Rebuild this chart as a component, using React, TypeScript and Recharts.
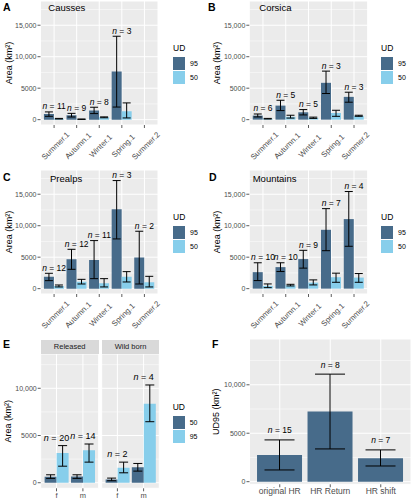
import React from 'react';
import {
  ComposedChart,
  Bar,
  Line,
  XAxis,
  YAxis,
  CartesianGrid,
  ErrorBar,
  LabelList,
  Legend,
  Label,
} from 'recharts';

const FONT = '"Liberation Sans", Arial, Helvetica, sans-serif';
const DARK = '#476B8A';
const LIGHT = '#87CEEB';
const TICK = '#4D4D4D';

// ---- A-D: seasonal home ranges ----
const seasons = ['Summer.1', 'Autumn.1', 'Winter.1', 'Spring.1', 'Summer.2'];
const seasonTicks = [0, 5000, 10000, 15000];
const seasonMinor = [2500, 7500, 12500, 17500];
const seasonDomain = [-850, 18850];

// A Causses
const caussesN = [11, 9, 8, 3, null];
const causses95 = [900, 690, 1440, 7650, null];
const causses95Lo = [530, 420, 960, 2000, null];
const causses95Hi = [1230, 1000, 1970, 13250, null];
const causses50 = [150, 70, 370, 1330, null];
const causses50Lo = [100, 40, 300, 270, null];
const causses50Hi = [200, 100, 440, 2660, null];

// B Corsica
const corsicaN = [6, 5, 5, 3, 3];
const corsica95 = [640, 2230, 1170, 5850, 3620];
const corsica95Lo = [430, 1440, 750, 4150, 2770];
const corsica95Hi = [900, 3080, 1600, 7710, 4360];
const corsica50 = [150, 450, 300, 1060, 600];
const corsica50Lo = [100, 250, 200, 530, 530];
const corsica50Hi = [200, 700, 400, 1490, 700];

// C Prealps
const prealpsN = [12, 12, 11, 3, 2];
const prealps95 = [1910, 4660, 4560, 12600, 4930];
const prealps95Lo = [1270, 3070, 1590, 7900, 740];
const prealps95Hi = [2440, 6250, 7630, 17170, 9120];
const prealps50 = [420, 1110, 850, 1910, 1010];
const prealps50Lo = [270, 740, 270, 1060, 270];
const prealps50Hi = [580, 1480, 1590, 2700, 1960];

// D Mountains
const mountainsN = [10, 10, 9, 7, 4];
const mountains95 = [2620, 3420, 4700, 9350, 11050];
const mountains95Lo = [1280, 2720, 3260, 6030, 6730];
const mountains95Hi = [4110, 4110, 6090, 12710, 15430];
const mountains50 = [430, 530, 960, 1820, 1760];
const mountains50Lo = [160, 430, 590, 1010, 1010];
const mountains50Hi = [750, 690, 1390, 2460, 2400];

// ---- E: sex x origin ----
const sexes = ['f', 'm'];
const sexTicks = [0, 5000, 10000];
const sexMinor = [2500, 7500, 12500];
const sexDomain = [-590, 13630];

const releasedN = [20, 14];
const released50 = [630, 670];
const released50Lo = [460, 460];
const released50Hi = [840, 840];
const released95 = [3160, 3440];
const released95Lo = [1750, 2180];
const released95Hi = [3930, 4100];

const wildN = [2, 4];
const wild50 = [350, 1650];
const wild50Lo = [210, 1230];
const wild50Hi = [490, 2040];
const wild95 = [1580, 8350];
const wild95Lo = [1050, 6460];
const wild95Hi = [2180, 10350];

// ---- F: HR behaviour ----
const hrCats = ['original HR', 'HR Return', 'HR shift'];
const hrTicks = [0, 5000, 10000];
const hrMinor = [2500, 7500, 12500];
const hrDomain = [-270, 14725];
const hrN = [15, 8, 7];
const hr95 = [2760, 7240, 2410];
const hr95Lo = [1210, 3380, 1620];
const hr95Hi = [4310, 11100, 3280];

type Num = number | null;

function buildRows(
  cats: string[],
  n: Num[],
  dark: Num[],
  darkLo: Num[],
  darkHi: Num[],
  light?: Num[],
  lightLo?: Num[],
  lightHi?: Num[]
) {
  return cats.map((cat, i) => {
    const d = dark[i];
    const l = light ? light[i] : null;
    const tops = [darkHi[i], lightHi ? lightHi[i] : null].filter((v) => v != null) as number[];
    return {
      cat,
      n: n[i],
      dark: d,
      darkErr: d == null ? null : [d - (darkLo[i] as number), (darkHi[i] as number) - d],
      light: l,
      lightErr: l == null || !lightLo || !lightHi ? null : [l - (lightLo[i] as number), (lightHi[i] as number) - l],
      labelAt: n[i] == null ? null : Math.max(...tops),
    };
  });
}

const caussesRows = buildRows(seasons, caussesN, causses95, causses95Lo, causses95Hi, causses50, causses50Lo, causses50Hi);
const corsicaRows = buildRows(seasons, corsicaN, corsica95, corsica95Lo, corsica95Hi, corsica50, corsica50Lo, corsica50Hi);
const prealpsRows = buildRows(seasons, prealpsN, prealps95, prealps95Lo, prealps95Hi, prealps50, prealps50Lo, prealps50Hi);
const mountainsRows = buildRows(seasons, mountainsN, mountains95, mountains95Lo, mountains95Hi, mountains50, mountains50Lo, mountains50Hi);
const releasedRows = buildRows(sexes, releasedN, released50, released50Lo, released50Hi, released95, released95Lo, released95Hi);
const wildRows = buildRows(sexes, wildN, wild50, wild50Lo, wild50Hi, wild95, wild95Lo, wild95Hi);
const hrRows = buildRows(hrCats, hrN, hr95, hr95Lo, hr95Hi);

const fmt = (v: number) => (v >= 10000 ? v.toLocaleString('en-US') : String(v));

// 45° labels, centred a little below the tick (as in the ggplot original)
const RotTick = (props: any) => {
  const { x, y, payload } = props;
  return (
    <g transform={`translate(${x + 1.5},${y + 17}) rotate(-45)`}>
      <text textAnchor="middle" dominantBaseline="central" fontSize={7.8} fill={TICK} fontFamily={FONT}>
        {payload.value}
      </text>
    </g>
  );
};

const yTitle = (text: string, gap: number) => (props: any) => {
  const vb = props.viewBox || {};
  const x = vb.x + vb.width - gap;
  const y = vb.y + vb.height / 2;
  return (
    <text
      x={x}
      y={y}
      transform={`rotate(-90, ${x}, ${y})`}
      textAnchor="middle"
      dominantBaseline="central"
      fontSize={9}
      fill="#000"
      fontFamily={FONT}
    >
      {text}
    </text>
  );
};

const nLabel = (gap: number, size: number) => (props: any) => {
  const vb = props.viewBox || {};
  const x = vb.x != null ? vb.x : props.x;
  const y = vb.y != null ? vb.y : props.y;
  if (props.value == null || x == null || y == null || Number.isNaN(y)) return null;
  return (
    <text x={x} y={y - gap} textAnchor="middle" fontSize={size} fill="#000" fontFamily={FONT}>
      <tspan fontStyle="italic">n</tspan>
      <tspan> = {props.value}</tspan>
    </text>
  );
};

const keyOrder = ['dark', 'light'];

const legendContent = (props: any) => {
  const payload = (props.payload || [])
    .filter((p: any) => p.type !== 'none' && keyOrder.includes(p.dataKey))
    .sort((a: any, b: any) => keyOrder.indexOf(a.dataKey) - keyOrder.indexOf(b.dataKey));
  return (
    <div style={{ fontFamily: FONT, lineHeight: 1 }}>
      <div style={{ fontSize: 8.5, color: '#000', marginBottom: 4 }}>UD</div>
      {payload.map((p: any) => (
        <div key={p.dataKey} style={{ display: 'flex', alignItems: 'center', height: 13, marginBottom: 1 }}>
          <div style={{ width: 12, height: 13, background: p.color }} />
          <div style={{ fontSize: 7, color: '#000', marginLeft: 5 }}>{p.value}</div>
        </div>
      ))}
    </div>
  );
};

type PanelProps = {
  rows: any[];
  left: number;
  top: number;
  width: number;
  height: number;
  margin: { top: number; right: number; bottom: number; left: number };
  yWidth: number;
  xHeight: number;
  pad: number;
  domain: number[];
  ticks: number[];
  minor: number[];
  showY: boolean;
  title?: string;
  titleGap?: number;
  darkName: string;
  lightName?: string;
  cap: number;
  labelGap: number;
  labelSize: number;
  rotate?: boolean;
  xFont?: number;
  legendPos?: { left: number; top: number };
};

function BarPanel(p: PanelProps) {
  return (
    <div style={{ position: 'absolute', left: p.left, top: p.top }}>
      <ComposedChart
        width={p.width}
        height={p.height}
        data={p.rows}
        margin={p.margin}
        barCategoryGap="5%"
        barGap={0}
      >
        <CartesianGrid fill="#EBEBEB" stroke="#FFFFFF" strokeWidth={1} />
        <CartesianGrid vertical={false} horizontalValues={p.minor} stroke="#FFFFFF" strokeWidth={0.5} />
        <XAxis
          dataKey="cat"
          type="category"
          axisLine={false}
          tickLine={{ stroke: '#333333', strokeWidth: 0.8 }}
          tickSize={3}
          tickMargin={1}
          padding={{ left: p.pad, right: p.pad }}
          height={p.xHeight}
          interval={0}
          tick={p.rotate ? <RotTick /> : { fontSize: p.xFont || 7.5, fill: TICK, fontFamily: FONT }}
        />
        <YAxis
          type="number"
          domain={p.domain}
          ticks={p.ticks}
          hide={!p.showY}
          width={p.yWidth}
          axisLine={false}
          allowDataOverflow
          tickLine={{ stroke: '#333333', strokeWidth: 0.8 }}
          tickSize={3}
          tickMargin={1}
          tick={{ fontSize: 7, fill: TICK, fontFamily: FONT }}
          tickFormatter={fmt}
        >
          {p.title ? <Label content={yTitle(p.title, p.titleGap || 32)} /> : null}
        </YAxis>
        <Bar dataKey="dark" name={p.darkName} fill={DARK} isAnimationActive={false}>
          <ErrorBar dataKey="darkErr" width={p.cap} stroke="#000" strokeWidth={1} />
        </Bar>
        {p.lightName ? (
          <Bar dataKey="light" name={p.lightName} fill={LIGHT} isAnimationActive={false}>
            <ErrorBar dataKey="lightErr" width={p.cap} stroke="#000" strokeWidth={1} />
          </Bar>
        ) : null}
        <Line
          dataKey="labelAt"
          stroke="none"
          dot={false}
          activeDot={false}
          legendType="none"
          isAnimationActive={false}
        >
          <LabelList dataKey="n" content={nLabel(p.labelGap, p.labelSize)} />
        </Line>
        {p.legendPos ? (
          <Legend
            layout="horizontal"
            verticalAlign="middle"
            align="center"
            content={legendContent}
            wrapperStyle={{ left: p.legendPos.left, top: p.legendPos.top, width: 40, height: 45 }}
          />
        ) : null}
      </ComposedChart>
    </div>
  );
}

const letterStyle = (left: number, top: number): React.CSSProperties => ({
  position: 'absolute',
  left,
  top,
  fontFamily: FONT,
  fontWeight: 'bold',
  fontSize: 10.5,
  lineHeight: 1,
  color: '#000',
});

const titleStyle = (left: number, top: number): React.CSSProperties => ({
  position: 'absolute',
  left,
  top,
  fontFamily: FONT,
  fontSize: 9.5,
  lineHeight: 1,
  color: '#000',
});

const stripStyle = (left: number, width: number): React.CSSProperties => ({
  position: 'absolute',
  left,
  top: 340,
  width,
  height: 14,
  background: '#D9D9D9',
  fontFamily: FONT,
  fontSize: 7.5,
  lineHeight: '14px',
  textAlign: 'center',
  color: '#1A1A1A',
});

const seasonCommon = {
  height: 165,
  xHeight: 40,
  pad: 2.3,
  domain: seasonDomain,
  ticks: seasonTicks,
  minor: seasonMinor,
  showY: true,
  title: 'Area (km²)',
  titleGap: 32,
  darkName: '95',
  lightName: '50',
  cap: 4,
  labelGap: 2.5,
  labelSize: 8.5,
  rotate: true,
};

export default function App() {
  return (
    <div
      style={{
        position: 'absolute',
        left: 0,
        top: 0,
        width: 413,
        height: 500,
        background: '#FFFFFF',
        overflow: 'hidden',
      }}
    >
      <BarPanel
        {...seasonCommon}
        rows={caussesRows}
        left={0}
        top={0}
        width={206}
        margin={{ top: 1, right: 48, bottom: 0, left: 0 }}
        yWidth={40.5}
        legendPos={{ left: 173, top: 44 }}
      />
      <BarPanel
        {...seasonCommon}
        rows={corsicaRows}
        left={206}
        top={0}
        width={207}
        margin={{ top: 1, right: 45.3, bottom: 0, left: 0 }}
        yWidth={43.3}
        legendPos={{ left: 175, top: 44 }}
      />
      <BarPanel
        {...seasonCommon}
        rows={prealpsRows}
        left={0}
        top={169}
        width={206}
        margin={{ top: 1, right: 48, bottom: 0, left: 0 }}
        yWidth={40.5}
        legendPos={{ left: 173, top: 44 }}
      />
      <BarPanel
        {...seasonCommon}
        rows={mountainsRows}
        left={206}
        top={169}
        width={207}
        margin={{ top: 1, right: 45.3, bottom: 0, left: 0 }}
        yWidth={43.3}
        legendPos={{ left: 175, top: 44 }}
      />

      {/* E: two facets */}
      <BarPanel
        rows={releasedRows}
        left={0}
        top={340}
        width={100}
        height={160}
        margin={{ top: 14, right: 1.3, bottom: 0, left: 0 }}
        yWidth={40.7}
        xHeight={11.7}
        pad={2.6}
        domain={sexDomain}
        ticks={sexTicks}
        minor={sexMinor}
        showY
        title="Area (km²)"
        titleGap={32.4}
        darkName="50"
        lightName="95"
        cap={4.5}
        labelGap={5}
        labelSize={9}
        xFont={7.5}
      />
      <BarPanel
        rows={wildRows}
        left={100}
        top={340}
        width={113}
        height={160}
        margin={{ top: 14, right: 53.7, bottom: 0, left: 1.7 }}
        yWidth={0}
        xHeight={11.7}
        pad={2.6}
        domain={sexDomain}
        ticks={sexTicks}
        minor={sexMinor}
        showY={false}
        darkName="50"
        lightName="95"
        cap={4.5}
        labelGap={5}
        labelSize={9}
        xFont={7.5}
        legendPos={{ left: 72.7, top: 63 }}
      />
      <div style={stripStyle(40.7, 58)}>Released</div>
      <div style={stripStyle(101.7, 57.6)}>Wild born</div>

      {/* F */}
      <BarPanel
        rows={hrRows}
        left={206}
        top={339}
        width={207}
        height={161}
        margin={{ top: 0, right: 2, bottom: 0, left: 0 }}
        yWidth={43.5}
        xHeight={15.7}
        pad={5}
        domain={hrDomain}
        ticks={hrTicks}
        minor={hrMinor}
        showY
        title="UD95 (km²)"
        titleGap={33.5}
        darkName="95"
        cap={15}
        labelGap={6.5}
        labelSize={8.5}
        xFont={8.5}
      />

      <div style={letterStyle(3, 2)}>A</div>
      <div style={letterStyle(208, 2)}>B</div>
      <div style={letterStyle(3, 172)}>C</div>
      <div style={letterStyle(209, 172)}>D</div>
      <div style={letterStyle(3, 339)}>E</div>
      <div style={letterStyle(212, 339)}>F</div>

      <div style={titleStyle(48.3, 3)}>Causses</div>
      <div style={titleStyle(259.3, 3)}>Corsica</div>
      <div style={titleStyle(50, 174)}>Prealps</div>
      <div style={titleStyle(252.7, 174)}>Mountains</div>
    </div>
  );
}
